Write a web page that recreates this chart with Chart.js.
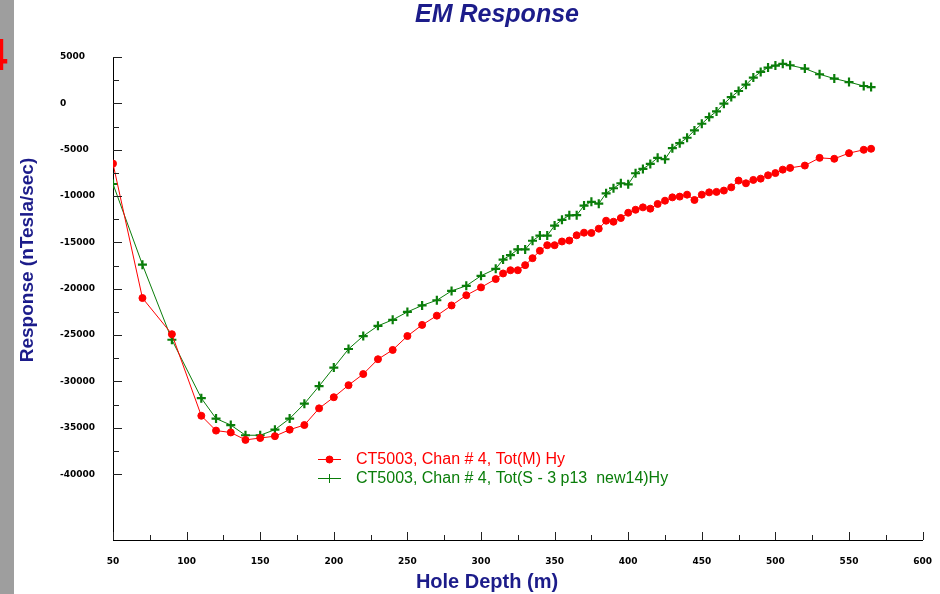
<!DOCTYPE html>
<html>
<head>
<meta charset="utf-8">
<title>EM Response</title>
<script src="https://cdn.jsdelivr.net/npm/chart.js@4.4.1/dist/chart.umd.min.js"></script>
<style>
  html, body { margin: 0; padding: 0; background: #fff; }
  canvas { display: block; }
</style>
</head>
<body>
<canvas id="chart" width="940" height="594"></canvas>
<script>
// hole depths (m), shared by both channels
var depths = [50, 70, 90, 110, 120, 130, 140, 150, 160, 170, 180, 190, 200, 210, 220, 230, 240, 250,
  260, 270, 280, 290, 300, 310, 315, 320, 325, 330, 335, 340, 345, 350, 355, 360, 365, 370, 375, 380,
  385, 390, 395, 400, 405, 410, 415, 420, 425, 430, 435, 440, 445, 450, 455, 460, 465, 470, 475, 480,
  485, 490, 495, 500, 505, 510, 520, 530, 540, 550, 560, 565];

// measured response, Tot(M) Hy
var measured = [-6500, -21000, -24900, -33700, -35300, -35500, -36300, -36100, -35900, -35200, -34700,
  -32900, -31700, -30400, -29200, -27600, -26600, -25100, -23900, -22900, -21800, -20700, -19850,
  -18950, -18350, -18000, -18000, -17450, -16700, -15900, -15300, -15300, -14900, -14800, -14230,
  -13950, -13980, -13520, -12660, -12770, -12370, -11800, -11480, -11220, -11360, -10850, -10500,
  -10140, -10060, -9850, -10420, -9850, -9600, -9550, -9410, -9060, -8330, -8620, -8260, -8120,
  -7760, -7520, -7150, -6960, -6710, -5880, -5980, -5370, -5010, -4900];

// synthetic response, Tot(S - 3 p13 new14) Hy
var synthetic = [-8700, -17400, -25500, -31800, -34000, -34700, -35800, -35800, -35200, -34000, -32400,
  -30500, -28500, -26500, -25100, -24000, -23350, -22500, -21800, -21240, -20230, -19680, -18600,
  -17850, -16850, -16370, -15760, -15760, -14820, -14260, -14260, -13180, -12560, -12080, -12060,
  -11030, -10620, -10820, -9700, -9160, -8620, -8730, -7540, -7070, -6530, -5880, -6030, -4840,
  -4300, -3710, -2920, -2200, -1480, -870, -40, 680, 1330, 2020, 2780, 3390, 3860, 4080, 4260,
  4110, 3750, 3140, 2670, 2300, 1870, 1760];

var seriesLabels = ['CT5003, Chan # 4, Tot(M) Hy', 'CT5003, Chan # 4, Tot(S - 3 p13  new14)Hy'];

// labelled ticks
var depthTicks = [50, 100, 150, 200, 250, 300, 350, 400, 450, 500, 550, 600];
var responseTicks = [5000, 0, -5000, -10000, -15000, -20000, -25000, -30000, -35000, -40000];

var NAVY = '#1c1c8a';
var RED = '#ff0000';
var GREEN = '#0a7d0a';
var tickFont = { family: 'DejaVu Sans', size: 9, weight: 'bold' };

function pairs(xs, ys) {
  return xs.map(function (d, i) { return { x: d, y: ys[i] }; });
}

function fixedTicks(list) {
  return function (scale) {
    scale.ticks = list.map(function (v) { return { value: v }; });
  };
}

// axis tick marks (inside the frame), titles, legend and the left strip
var decor = {
  id: 'decor',
  beforeDraw: function (chart) {
    var ctx = chart.ctx;
    ctx.save();
    ctx.fillStyle = '#fff';
    ctx.fillRect(0, 0, chart.width, chart.height);
    ctx.restore();
  },
  afterDraw: function (chart) {
    var ctx = chart.ctx, a = chart.chartArea;
    var xs = chart.scales.x, ys = chart.scales.y;
    ctx.save();

    // major and minor tick marks
    ctx.strokeStyle = '#222';
    ctx.lineWidth = 1;
    ctx.beginPath();
    for (var v = -40000; v <= 5000; v += 2500) {
      var py = Math.round(ys.getPixelForValue(v)) + 0.5;
      var len = v % 5000 === 0 ? 9 : 6;
      ctx.moveTo(a.left, py);
      ctx.lineTo(a.left + len, py);
    }
    for (var d = 50; d <= 600; d += 25) {
      var px = Math.round(xs.getPixelForValue(d)) + 0.5;
      var h = d % 50 === 0 ? 8 : 5;
      ctx.moveTo(px, a.bottom);
      ctx.lineTo(px, a.bottom - h);
    }
    ctx.stroke();

    // chart title, partly above the top edge
    ctx.fillStyle = NAVY;
    ctx.font = 'italic bold 25px "Liberation Sans", Arial, sans-serif';
    ctx.textAlign = 'center';
    ctx.textBaseline = 'alphabetic';
    ctx.fillText('EM Response', 497, 22);

    // axis titles
    ctx.font = 'bold 20px "Liberation Sans", Arial, sans-serif';
    ctx.textBaseline = 'middle';
    ctx.fillText('Hole Depth (m)', 487, 582);
    ctx.save();
    ctx.translate(28, 260);
    ctx.rotate(-Math.PI / 2);
    ctx.font = 'bold 19px "Liberation Sans", Arial, sans-serif';
    ctx.fillText('Response (nTesla/sec)', 0, 0);
    ctx.restore();

    // legend
    var rows = [
      { y: 459, color: RED, ds: 0 },
      { y: 478, color: GREEN, ds: 1 }
    ];
    ctx.font = '16px "Liberation Sans", Arial, sans-serif';
    ctx.textAlign = 'left';
    rows.forEach(function (r) {
      ctx.strokeStyle = r.color;
      ctx.fillStyle = r.color;
      ctx.lineWidth = 1;
      ctx.beginPath();
      ctx.moveTo(318, r.y + 0.5);
      ctx.lineTo(341, r.y + 0.5);
      ctx.stroke();
      var ds = chart.data.datasets[r.ds];
      Chart.helpers.drawPoint(ctx, {
        pointStyle: ds.pointStyle,
        radius: ds.pointRadius,
        borderWidth: ds.pointBorderWidth
      }, 329.5, r.y + 0.5);
      ctx.fillStyle = r.color;
      ctx.fillText(ds.label, 356, r.y + 1);
    });

    // grey strip on the left edge
    ctx.fillStyle = '#9e9e9e';
    ctx.fillRect(0, 0, 14, chart.height);
    ctx.fillStyle = RED;
    ctx.font = 'bold 44px "Liberation Sans", Arial, sans-serif';
    ctx.textBaseline = 'alphabetic';
    ctx.fillText('4', -17, 70);

    ctx.restore();
  }
};

new Chart(document.getElementById('chart'), {
  type: 'line',
  data: {
    datasets: [{
      label: seriesLabels[0],
      data: pairs(depths, measured),
      borderColor: RED,
      backgroundColor: RED,
      borderWidth: 1,
      pointStyle: 'circle',
      pointRadius: 3.5,
      pointBorderWidth: 1,
      pointBackgroundColor: RED,
      pointBorderColor: RED,
      tension: 0
    }, {
      label: seriesLabels[1],
      data: pairs(depths, synthetic),
      borderColor: GREEN,
      backgroundColor: GREEN,
      borderWidth: 1,
      pointStyle: 'cross',
      pointRadius: 4.5,
      pointBorderWidth: 2.2,
      pointBorderColor: GREEN,
      tension: 0
    }]
  },
  options: {
    responsive: false,
    animation: false,
    devicePixelRatio: 1,
    layout: { padding: { left: 60, top: 57, right: 15, bottom: 0 } },
    plugins: {
      legend: { display: false },
      title: { display: false },
      tooltip: { enabled: false }
    },
    scales: {
      x: {
        type: 'linear',
        min: 50,
        max: 600,
        grid: { display: false },
        border: { display: true, color: '#000', width: 1 },
        afterBuildTicks: fixedTicks(depthTicks),
        ticks: {
          color: '#000',
          font: tickFont,
          padding: 8,
          maxRotation: 0,
          autoSkip: false
        },
        afterFit: function (s) { s.height = 54; }
      },
      y: {
        type: 'linear',
        min: -47100,
        max: 5000,
        grid: { display: false },
        border: { display: true, color: '#000', width: 1 },
        afterBuildTicks: fixedTicks(responseTicks),
        ticks: {
          color: '#000',
          font: tickFont,
          crossAlign: 'far',
          autoSkip: false,
          callback: function (v) { return String(v); }
        },
        afterFit: function (s) { s.width = 53; }
      }
    }
  },
  plugins: [decor]
});
</script>
</body>
</html>
